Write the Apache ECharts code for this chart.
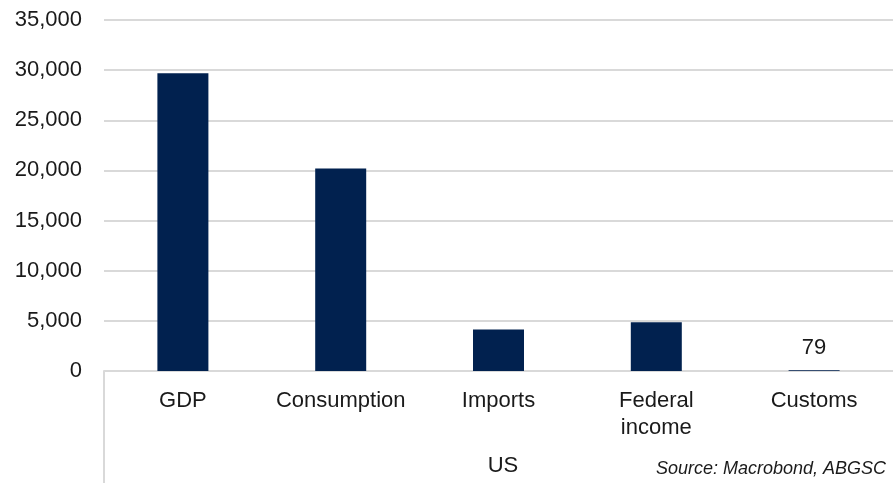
<!DOCTYPE html>
<html>
<head>
<meta charset="utf-8">
<script src="https://cdn.jsdelivr.net/npm/echarts@6/dist/echarts.min.js"></script>
<style>html,body{margin:0;padding:0;background:#fff;}#c{width:893px;height:483px;}</style>
</head>
<body>
<div id="c"></div>
<script>
var categories = ['GDP', 'Consumption', 'Imports', 'Federal\nincome', 'Customs'];
var values = [29700, 20200, 4150, 4860, 79];
var labelledIndex = 4;
var groupLabel = 'US';
var sourceText = 'Source: Macrobond, ABGSC';

var chart = echarts.init(document.getElementById('c'));
var font = 'Liberation Sans, Arial, sans-serif';
chart.setOption({
  animation: false,
  grid: { left: 104, right: 0, top: 20, bottom: 112, containLabel: false },
  xAxis: {
    type: 'category',
    data: categories,
    axisLine: { show: true, lineStyle: { color: '#d9d9d9', width: 2 } },
    axisTick: { show: false },
    axisLabel: { interval: 0, hideOverlap: false, color: '#1a1a1a', fontSize: 22, fontFamily: font, margin: 16, lineHeight: 27, verticalAlign: 'top' }
  },
  yAxis: {
    type: 'value',
    min: 0, max: 35000, interval: 5000,
    axisLine: { show: false },
    axisTick: { show: false },
    splitLine: { lineStyle: { color: '#d9d9d9', width: 2 } },
    axisLabel: {
      color: '#1a1a1a', fontSize: 22, fontFamily: font, margin: 22,
      formatter: function (v) { return v.toLocaleString('en-US'); }
    }
  },
  series: [{
    type: 'bar',
    barWidth: 51,
    itemStyle: { color: '#01214f' },
    data: values.map(function (v, i) {
      return i === labelledIndex
        ? { value: v, label: { show: true, position: 'top', distance: 11, color: '#1a1a1a', fontSize: 22, fontFamily: font } }
        : v;
    })
  }],
  graphic: [
    { type: 'line', shape: { x1: 104, y1: 371, x2: 104, y2: 483 }, style: { stroke: '#d9d9d9', lineWidth: 2 } },
    { type: 'text', x: 503, y: 466, style: { text: groupLabel, fill: '#1a1a1a', font: '22px ' + font, textAlign: 'center', textVerticalAlign: 'middle' } },
    { type: 'text', x: 886, y: 469, style: { text: sourceText, fill: '#1a1a1a', font: 'italic 18px ' + font, textAlign: 'right', textVerticalAlign: 'middle' } }
  ]
});
</script>
</body>
</html>
